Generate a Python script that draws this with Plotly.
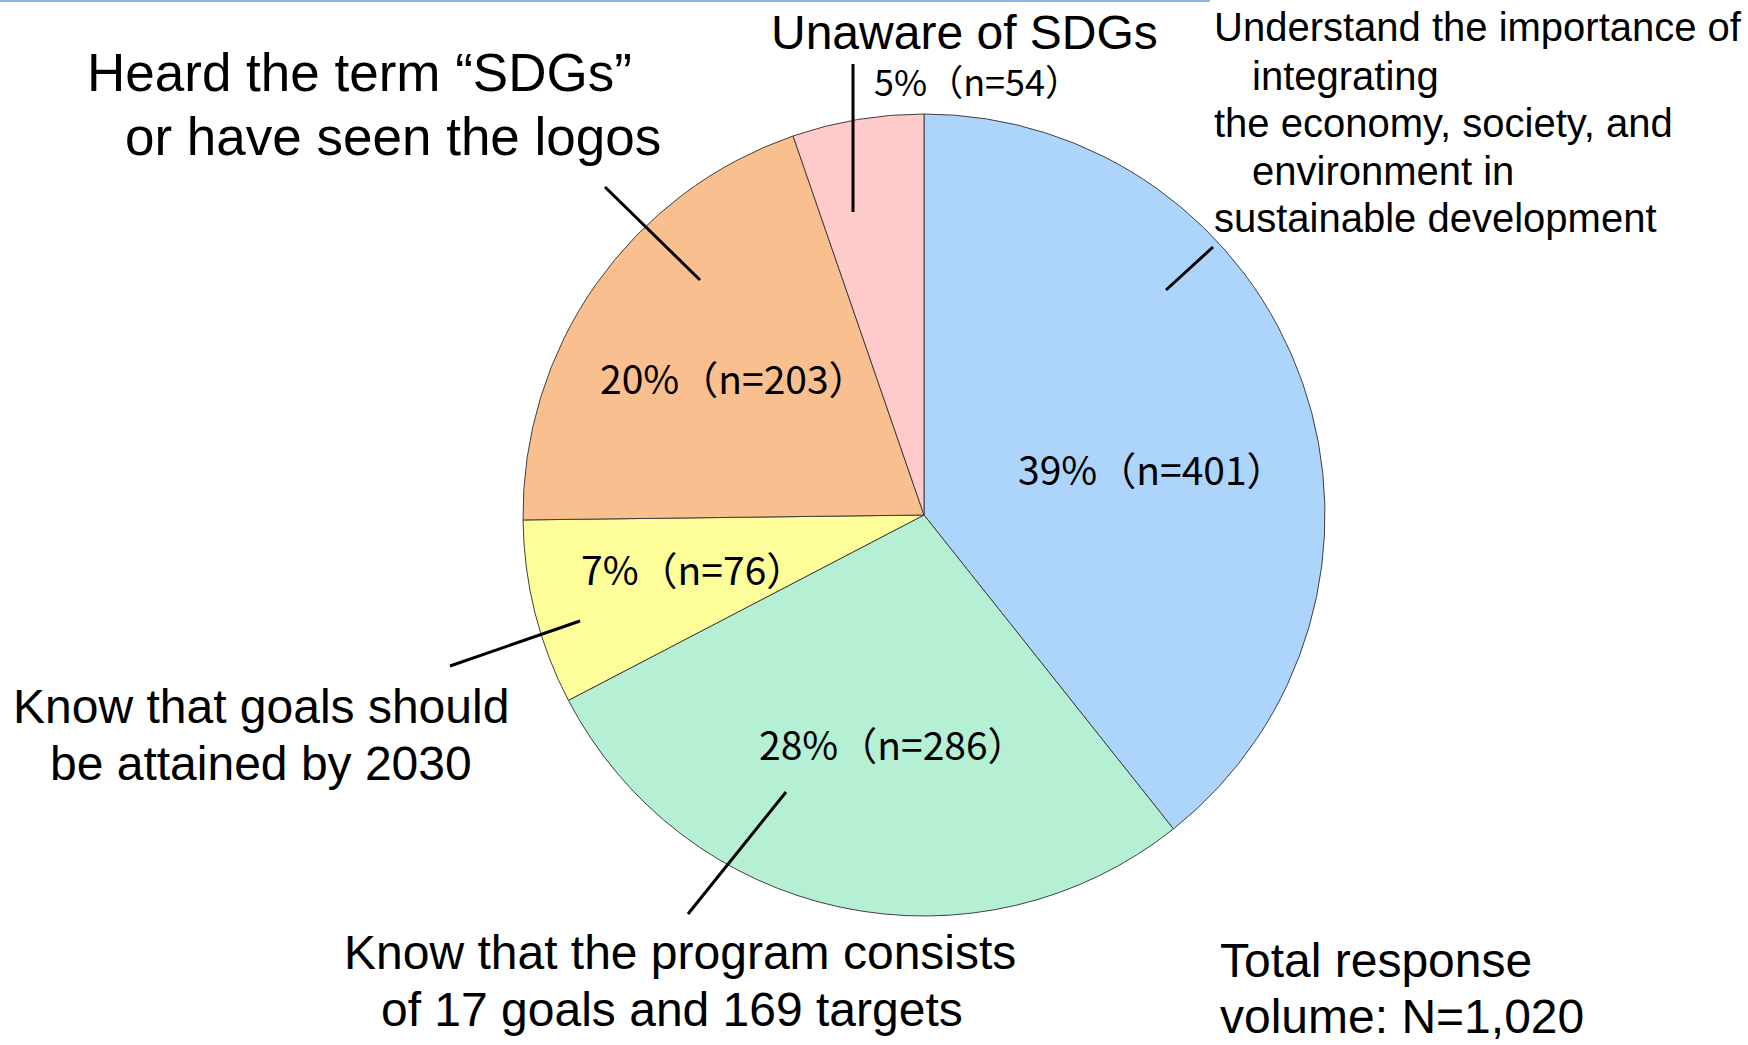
import plotly.graph_objects as go

W, H = 1748, 1045

# ---- data ----
categories = [
    "Understand the importance of integrating the economy, society, and environment in sustainable development",
    "Know that the program consists of 17 goals and 169 targets",
    "Know that goals should be attained by 2030",
    "Heard the term “SDGs” or have seen the logos",
    "Unaware of SDGs",
]
counts = [401, 286, 76, 203, 54]
colors = ["#ADD5FC", "#B5F0D4", "#FDFD99", "#F9BF8F", "#FFCACA"]
total_label = ["Total response", "volume: N=1,020"]

total = sum(counts)


def px(x):
    return x / W


def py(y):
    return 1 - y / H


fig = go.Figure()
fig.add_trace(go.Pie(
    labels=categories,
    values=counts,
    sort=False,
    direction="clockwise",
    rotation=0,
    marker=dict(colors=colors, line=dict(color="#404040", width=1)),
    textinfo="none",
    hoverinfo="label+value+percent",
    showlegend=False,
    domain=dict(x=[px(523), px(1325)], y=[py(916), py(114)]),
))

annotations = []

# percentage labels (inside / near slices)
pct_pos = [(1152, 468, 39), (893, 743, 39), (693, 568, 39), (734, 377, 39), (977, 80, 36)]
for n, (x, y, fs) in zip(counts, pct_pos):
    pct = round(n / total * 100)
    annotations.append(dict(
        x=px(x), y=py(y), xref="paper", yref="paper",
        text=f"{pct}%（n={n}）", showarrow=False,
        xanchor="center", yanchor="middle",
        font=dict(family="Noto Sans CJK JP", size=fs, color="#000000"),
    ))

# category labels, line by line
big = 48
heard = 53
small = 40
label_lines = [
    ("Unaware of SDGs", 964, 33, "center", big),
    ("Heard the term “SDGs”", 85, 73, "left", heard),
    ("or have seen the logos", 123, 136, "left", heard),
    ("Understand the importance of", 1212, 27, "left", small),
    ("integrating", 1250, 76, "left", small),
    ("the economy, society, and", 1212, 123, "left", small),
    ("environment in", 1250, 171, "left", small),
    ("sustainable development", 1212, 218, "left", small),
    ("Know that goals should", 261, 706, "center", big),
    ("be attained by 2030", 261, 763, "center", big),
    ("Know that the program consists", 680, 952, "center", big),
    ("of 17 goals and 169 targets", 672, 1009, "center", big),
    (total_label[0], 1218, 960, "left", big),
    (total_label[1], 1218, 1016, "left", big),
]
for txt, x, y, anc, fs in label_lines:
    annotations.append(dict(
        x=px(x), y=py(y), xref="paper", yref="paper",
        text=txt, showarrow=False, xanchor=anc, yanchor="middle",
        font=dict(family="Liberation Sans, Arial, sans-serif", size=fs, color="#000000"),
    ))

shapes = []
# leader lines
leaders = [
    (853, 64, 853, 212),
    (605, 187, 700, 280),
    (1213, 247, 1166, 290),
    (450, 666, 580, 621),
    (688, 914, 786, 792),
]
for x0, y0, x1, y1 in leaders:
    shapes.append(dict(type="line", xref="paper", yref="paper",
                       x0=px(x0), y0=py(y0), x1=px(x1), y1=py(y1),
                       line=dict(color="#000000", width=3)))
# thin blue rule at the top
shapes.append(dict(type="line", xref="paper", yref="paper",
                   x0=0, y0=py(1), x1=px(1210), y1=py(1),
                   line=dict(color="#8EB4E3", width=2)))

fig.update_layout(
    width=W, height=H,
    margin=dict(l=0, r=0, t=0, b=0),
    paper_bgcolor="#FFFFFF",
    plot_bgcolor="#FFFFFF",
    annotations=annotations,
    shapes=shapes,
)

fig.write_html("out.html")
